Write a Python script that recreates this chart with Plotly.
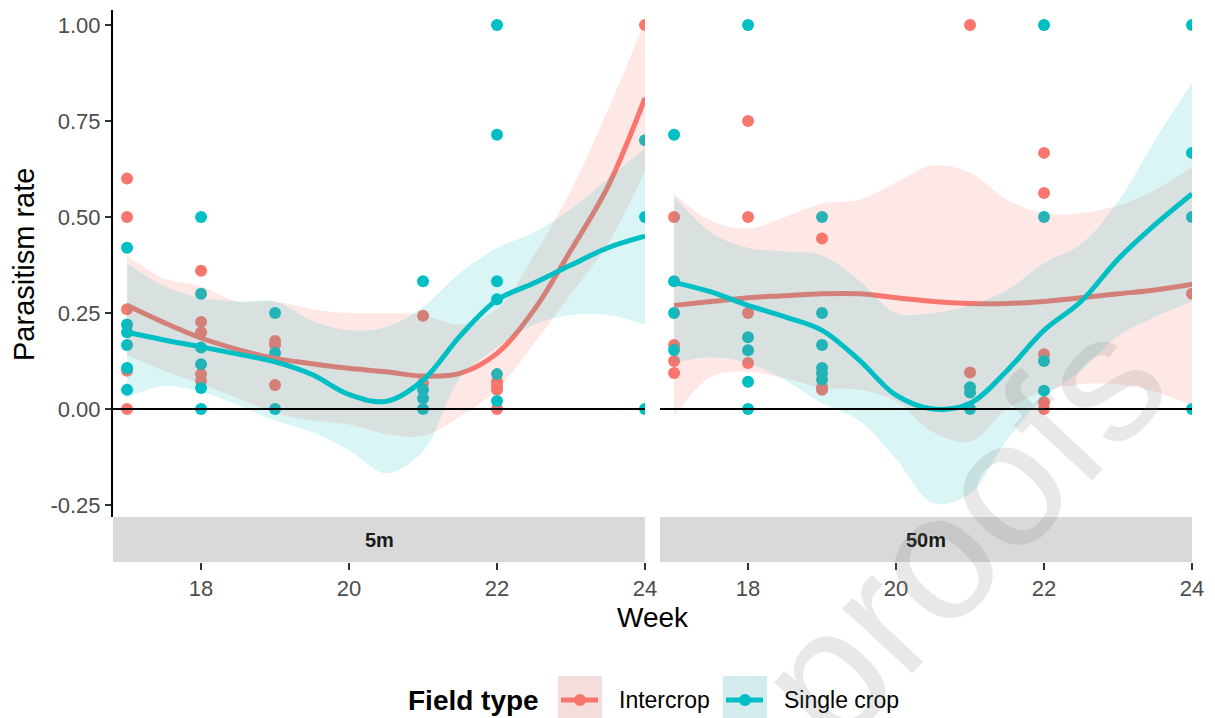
import plotly.graph_objects as go

# ---------------- data ----------------
fields = ["Intercrop", "Single crop"]
panels = ["5m", "50m"]
colors = {"Intercrop": "#F8766D", "Single crop": "#00BFC4"}
fills = {"Intercrop": "rgba(248,118,109,0.17)", "Single crop": "rgba(0,191,196,0.15)"}
key_fills = {"Intercrop": "#F4DEDD", "Single crop": "#D3EDEE"}

# observed points: week -> list of parasitism rates
pts_5m_inter = {17: [0.60, 0.50, 0.26, 0.10, 0.00], 18: [0.36, 0.227, 0.20, 0.091, 0.073],
                19: [0.177, 0.167, 0.0625], 21: [0.243, 0.067], 22: [0.0714, 0.0588, 0.05, 0.0], 24: [1.0]}
pts_5m_single = {17: [0.42, 0.22, 0.20, 0.167, 0.107, 0.05], 18: [0.50, 0.30, 0.16, 0.117, 0.055, 0.0],
                 19: [0.25, 0.146, 0.0], 21: [0.333, 0.05, 0.028, 0.0],
                 22: [1.0, 0.714, 0.333, 0.286, 0.091, 0.021], 24: [0.70, 0.50, 0.0]}
pts_50m_inter = {17: [0.50, 0.167, 0.125, 0.094], 18: [0.75, 0.50, 0.25, 0.12],
                 19: [0.444, 0.056, 0.05], 21: [1.0, 0.095], 22: [0.667, 0.5625, 0.143, 0.018, 0.0], 24: [0.30]}
pts_50m_single = {17: [0.714, 0.333, 0.25, 0.154], 18: [1.0, 0.187, 0.153, 0.071, 0.0],
                  19: [0.50, 0.25, 0.167, 0.107, 0.094, 0.077], 21: [0.057, 0.043, 0.0],
                  22: [1.0, 0.50, 0.125, 0.048], 24: [1.0, 0.667, 0.50, 0.0]}

# loess fits
weeks_s = [17, 17.5, 18, 18.5, 19, 19.5, 20, 20.5, 21, 21.5, 22, 22.5, 23, 23.5, 24]
fit_5m_inter = [0.27, 0.225, 0.185, 0.155, 0.132, 0.118, 0.106, 0.097, 0.086, 0.093, 0.145, 0.258, 0.414, 0.58, 0.81]
lo_5m_inter = [0.14, 0.10, 0.066, 0.028, -0.01, -0.03, -0.04, -0.065, -0.07, -0.02, 0.05, 0.17, 0.30, 0.43, 0.62]
hi_5m_inter = [0.40, 0.34, 0.32, 0.28, 0.28, 0.26, 0.25, 0.25, 0.245, 0.22, 0.26, 0.40, 0.57, 0.78, 1.01]

fit_5m_single = [0.20, 0.18, 0.162, 0.143, 0.123, 0.09, 0.038, 0.02, 0.075, 0.19, 0.284, 0.328, 0.375, 0.42, 0.45]
lo_5m_single = [0.03, 0.06, 0.045, 0.01, -0.03, -0.06, -0.107, -0.167, -0.11, 0.08, 0.16, 0.22, 0.245, 0.245, 0.22]
hi_5m_single = [0.38, 0.32, 0.29, 0.28, 0.28, 0.23, 0.205, 0.214, 0.266, 0.354, 0.42, 0.46, 0.52, 0.60, 0.68]

fit_50m_inter = [0.27, 0.28, 0.29, 0.295, 0.30, 0.30, 0.29, 0.28, 0.275, 0.275, 0.28, 0.29, 0.30, 0.31, 0.325]
lo_50m_inter = [-0.02, 0.084, 0.097, 0.08, 0.055, 0.05, 0.02, -0.06, -0.085, 0.0, 0.045, 0.065, 0.065, 0.045, 0.01]
hi_50m_inter = [0.56, 0.49, 0.47, 0.50, 0.535, 0.545, 0.59, 0.635, 0.615, 0.545, 0.51, 0.51, 0.53, 0.57, 0.63]

fit_50m_single = [0.33, 0.305, 0.27, 0.24, 0.205, 0.128, 0.036, 0.0, 0.015, 0.10, 0.205, 0.28, 0.39, 0.48, 0.56]
lo_50m_single = [0.12, 0.135, 0.12, 0.075, 0.015, -0.03, -0.13, -0.245, -0.22, -0.08, 0.03, 0.10, 0.19, 0.24, 0.28]
hi_50m_single = [0.555, 0.46, 0.42, 0.41, 0.40, 0.335, 0.25, 0.25, 0.27, 0.31, 0.38, 0.43, 0.54, 0.70, 0.85]

x_ticks = [18, 20, 22, 24]
y_ticks = [-0.25, 0.0, 0.25, 0.50, 0.75, 1.00]
y_ticktext = ["-0.25", "0.00", "0.25", "0.50", "0.75", "1.00"]

points = {("5m", "Intercrop"): pts_5m_inter, ("5m", "Single crop"): pts_5m_single,
          ("50m", "Intercrop"): pts_50m_inter, ("50m", "Single crop"): pts_50m_single}
smooth = {("5m", "Intercrop"): (fit_5m_inter, lo_5m_inter, hi_5m_inter),
          ("5m", "Single crop"): (fit_5m_single, lo_5m_single, hi_5m_single),
          ("50m", "Intercrop"): (fit_50m_inter, lo_50m_inter, hi_50m_inter),
          ("50m", "Single crop"): (fit_50m_single, lo_50m_single, hi_50m_single)}

# ---------------- figure ----------------
FONT = "Liberation Sans, Arial, sans-serif"
fig = go.Figure()
axes = {"5m": ("x", "y"), "50m": ("x2", "y2")}

for p in panels:
    xa, ya = axes[p]
    for f in fields:
        d = points[(p, f)]
        xs, ys = [], []
        for wk, vals in d.items():
            xs += [wk] * len(vals)
            ys += vals
        fig.add_trace(go.Scatter(x=xs, y=ys, mode="markers", xaxis=xa, yaxis=ya,
                                 marker=dict(color=colors[f], size=12, line=dict(width=0)),
                                 showlegend=False, hoverinfo="skip"))
    for f in fields:
        fit, lo, hi = smooth[(p, f)]
        fig.add_trace(go.Scatter(x=weeks_s, y=lo, mode="lines", xaxis=xa, yaxis=ya,
                                 line=dict(width=0, shape="spline"), showlegend=False, hoverinfo="skip"))
        fig.add_trace(go.Scatter(x=weeks_s, y=hi, mode="lines", xaxis=xa, yaxis=ya, fill="tonexty",
                                 fillcolor=fills[f], line=dict(width=0, shape="spline"),
                                 showlegend=False, hoverinfo="skip"))
        fig.add_trace(go.Scatter(x=weeks_s, y=fit, mode="lines", xaxis=xa, yaxis=ya,
                                 line=dict(color=colors[f], width=5, shape="spline"),
                                 showlegend=False, hoverinfo="skip"))

# page has an 8px body margin: figure is sized so that it fills the window
OFF = 8
W, H = 1215 - OFF, 718 - OFF
PL, PR, PT, PB = 113, 1192, 10, 562   # plot region in page pixels (incl. strip)
L, T = PL - OFF, PT - OFF
R, B = W - (PR - OFF), H - (PB - OFF)
pw, ph = PR - PL, PB - PT
d_strip = 45 / ph
x_range = [16.81, 24.0]
y_range = [-0.281, 1.039]


def px_x(v):  # page px -> paper x
    return (v - PL) / pw


def px_y(v):  # page px -> paper y
    return (PB - v) / ph


tickfont = dict(family=FONT, size=22, color="#4D4D4D")
xcommon = dict(range=x_range, tickvals=x_ticks, ticks="outside", ticklen=7, tickwidth=1.5,
               tickcolor="#333333", showgrid=False, zeroline=False, showline=False,
               anchor="free", position=0, tickfont=tickfont, fixedrange=True, automargin=False)
fig.update_layout(
    width=W, height=H, margin=dict(l=L, r=R, t=T, b=B, autoexpand=False),
    paper_bgcolor="white", plot_bgcolor="white", showlegend=False,
    xaxis=dict(domain=[0, 532 / pw], **xcommon),
    xaxis2=dict(domain=[547 / pw, 1], **xcommon),
    yaxis=dict(domain=[d_strip, 1], range=y_range, tickvals=y_ticks, ticktext=y_ticktext,
               ticks="outside", ticklen=6, tickwidth=1.5, tickcolor="#333333",
               showline=True, linecolor="black", linewidth=2, showgrid=False, zeroline=False,
               anchor="x", tickfont=tickfont, automargin=False),
    yaxis2=dict(domain=[d_strip, 1], range=y_range, matches="y", showticklabels=False, ticks="",
                showline=False, showgrid=False, zeroline=False, anchor="x2", automargin=False),
)

# axis titles
fig.add_annotation(text="Parasitism rate", xref="paper", yref="paper", x=px_x(24), y=px_y(265),
                   showarrow=False, textangle=-90, xanchor="center", yanchor="middle",
                   font=dict(family=FONT, size=29, color="black"))
fig.add_annotation(text="Week", xref="paper", yref="paper", x=px_x(653), y=px_y(617),
                   showarrow=False, font=dict(family=FONT, size=28, color="black"),
                   xanchor="center", yanchor="middle")

# zero line, strips
for p in panels:
    xa, ya = axes[p]
    fig.add_shape(type="line", xref=f"{xa} domain", yref=ya, x0=0, x1=1, y0=0, y1=0,
                  line=dict(color="black", width=2), layer="above")
    fig.add_shape(type="rect", xref=f"{xa} domain", yref="paper", x0=0, x1=1, y0=0, y1=d_strip,
                  fillcolor="#D9D9D9", line=dict(width=0), layer="below")
    fig.add_annotation(text=f"<b>{p}</b>", xref=f"{xa} domain", yref="paper", x=0.5, y=d_strip / 2,
                       showarrow=False, font=dict(family=FONT, size=20, color="#1A1A1A"),
                       xanchor="center", yanchor="middle")

# legend (manual)
leg_y = 700
fig.add_annotation(text="<b>Field type</b>", xref="paper", yref="paper", x=px_x(541), y=px_y(leg_y),
                   showarrow=False, xanchor="right", yanchor="middle",
                   font=dict(family=FONT, size=28, color="black"))
keys = [("Intercrop", 558, 617), ("Single crop", 723, 782)]
for f, kx, tx in keys:
    fig.add_shape(type="rect", xref="paper", yref="paper", x0=px_x(kx), x1=px_x(kx + 44),
                  y0=px_y(leg_y - 24), y1=px_y(leg_y + 22),
                  fillcolor=key_fills[f], line=dict(width=0))
    fig.add_shape(type="line", xref="paper", yref="paper", x0=px_x(kx + 3), x1=px_x(kx + 40),
                  y0=px_y(leg_y), y1=px_y(leg_y), line=dict(color=colors[f], width=5))
    fig.add_shape(type="circle", xref="paper", yref="paper", x0=px_x(kx + 16), x1=px_x(kx + 28),
                  y0=px_y(leg_y - 6), y1=px_y(leg_y + 6), fillcolor=colors[f], line=dict(width=0))
    fig.add_annotation(text=f, xref="paper", yref="paper", x=px_x(tx), y=px_y(leg_y),
                       showarrow=False, xanchor="left", yanchor="middle",
                       font=dict(family=FONT, size=23, color="black"))

# watermark
fig.add_annotation(text="proofs", xref="paper", yref="paper", x=px_x(960), y=px_y(530),
                   showarrow=False, textangle=-47, xanchor="center", yanchor="middle",
                   font=dict(family=FONT, size=180, color="rgba(120,120,120,0.17)"))

fig.write_html("out.html")
